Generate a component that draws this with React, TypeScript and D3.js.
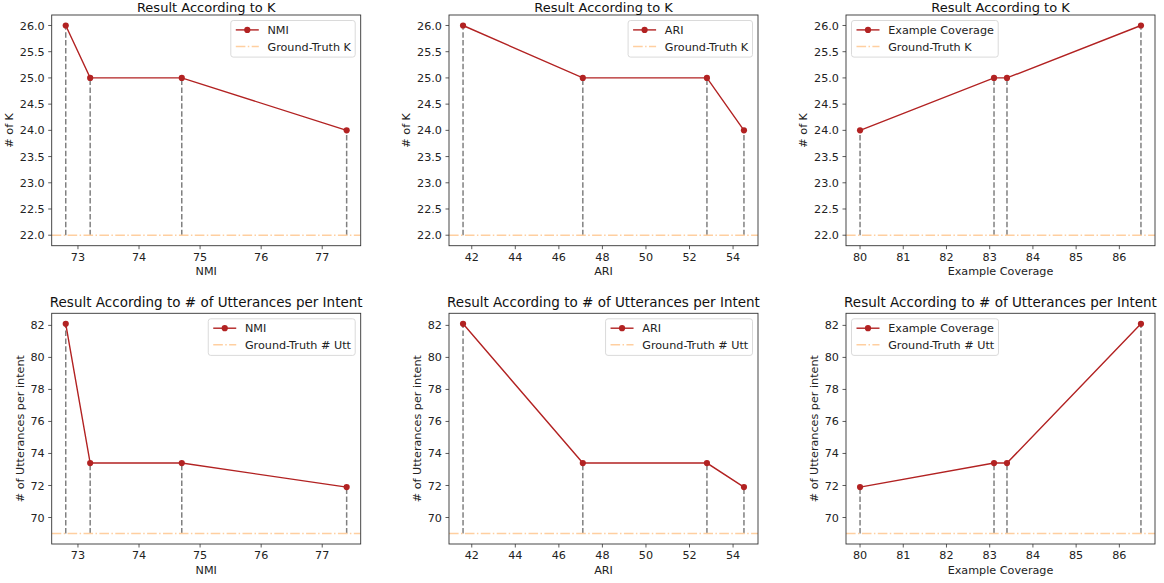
import React, { useEffect, useRef } from "react";
import * as d3 from "d3";

// ---- data ----
const metricNames = ["NMI", "ARI", "Example Coverage"];
const nmiValues = [72.8, 73.2, 74.7, 77.4];
const ariValues = [41.6, 47.1, 52.8, 54.5];
const coverageValues = [80, 83.1, 83.4, 86.5];

const kForNmi = [26, 25, 25, 24];
const kForAri = [26, 25, 25, 24];
const kForCoverage = [24, 25, 25, 26];

const uttForNmi = [82.1, 73.4, 73.4, 71.9];
const uttForAri = [82.1, 73.4, 73.4, 71.9];
const uttForCoverage = [71.9, 73.4, 73.4, 82.1];

const groundTruthK = 22;
const groundTruthUtt = 69;

const nmiTicks = [73, 74, 75, 76, 77];
const ariTicks = [42, 44, 46, 48, 50, 52, 54];
const coverageTicks = [80, 81, 82, 83, 84, 85, 86];
const kTicks = [22.0, 22.5, 23.0, 23.5, 24.0, 24.5, 25.0, 25.5, 26.0];
const uttTicks = [70, 72, 74, 76, 78, 80, 82];

const titles = ["Result According to K", "Result According to # of Utterances per Intent"];
const yLabels = ["# of K", "# of Utterances per intent"];
const gtLabels = ["Ground-Truth K", "Ground-Truth # Utt"];

// ---- layout / style ----
const W = 1164;
const H = 583;
const colLeft = [51.7, 449, 846];
const rowTop = [15, 313.3];
const titleOffset = [3.0, 6.6];
const titleSize = [13, 13.5];
const PW = 309;
const PH = 230.7;
const FONT = "DejaVu Sans, sans-serif";
const FS = 11.2;
const RED = "#b22222";
const GT = "#ffcfa0";

function measure(text: string, size: number) {
  const c = document.createElement("canvas");
  const ctx = c.getContext("2d")!;
  ctx.font = `${size}px "DejaVu Sans"`;
  return ctx.measureText(text).width;
}

function pad(ext: [number, number]): [number, number] {
  const m = (ext[1] - ext[0]) * 0.05;
  return [ext[0] - m, ext[1] + m];
}

export default function App() {
  const ref = useRef<SVGSVGElement>(null);

  useEffect(() => {
    const svg = d3.select(ref.current);
    svg.selectAll("*").remove();

    const xs = [nmiValues, ariValues, coverageValues];
    const xTicksAll = [nmiTicks, ariTicks, coverageTicks];
    const ysRows = [
      [kForNmi, kForAri, kForCoverage],
      [uttForNmi, uttForAri, uttForCoverage],
    ];
    const gts = [groundTruthK, groundTruthUtt];
    const yTicksAll = [kTicks, uttTicks];
    const yFmt = [(v: number) => v.toFixed(1), (v: number) => String(v)];

    for (let r = 0; r < 2; r++) {
      for (let c = 0; c < 3; c++) {
        const x0 = colLeft[c];
        const y0 = rowTop[r];
        const xv = xs[c];
        const yv = ysRows[r][c];
        const gt = gts[r];
        const xScale = d3
          .scaleLinear()
          .domain(pad(d3.extent(xv) as [number, number]))
          .range([x0, x0 + PW]);
        const yExt = d3.extent([...yv, gt]) as [number, number];
        const yScale = d3.scaleLinear().domain(pad(yExt)).range([y0 + PH, y0]);

        const g = svg.append("g");
        const clipId = `clip-${r}-${c}`;
        svg
          .append("clipPath")
          .attr("id", clipId)
          .append("rect")
          .attr("x", x0)
          .attr("y", y0)
          .attr("width", PW)
          .attr("height", PH);

        const plot = g.append("g").attr("clip-path", `url(#${clipId})`);

        // vertical dashed lines
        xv.forEach((x, i) => {
          plot
            .append("line")
            .attr("x1", xScale(x))
            .attr("x2", xScale(x))
            .attr("y1", yScale(gt))
            .attr("y2", yScale(yv[i]))
            .attr("stroke", "#808080")
            .attr("stroke-width", 1.5)
            .attr("stroke-dasharray", "5.5,2.4");
        });

        // ground truth line
        plot
          .append("line")
          .attr("x1", x0)
          .attr("x2", x0 + PW)
          .attr("y1", yScale(gt))
          .attr("y2", yScale(gt))
          .attr("stroke", GT)
          .attr("stroke-width", 1.5)
          .attr("stroke-dasharray", "9.6,2.4,1.5,2.4");

        // data line
        const pts = xv.map((x, i) => [x, yv[i]] as [number, number]);
        const line = d3
          .line<[number, number]>()
          .x((d) => xScale(d[0]))
          .y((d) => yScale(d[1]));
        plot
          .append("path")
          .attr("d", line(pts))
          .attr("fill", "none")
          .attr("stroke", RED)
          .attr("stroke-width", 1.4);
        plot
          .selectAll("circle")
          .data(pts)
          .enter()
          .append("circle")
          .attr("cx", (d) => xScale(d[0]))
          .attr("cy", (d) => yScale(d[1]))
          .attr("r", 3.1)
          .attr("fill", RED);

        // frame
        g.append("rect")
          .attr("x", x0)
          .attr("y", y0)
          .attr("width", PW)
          .attr("height", PH)
          .attr("fill", "none")
          .attr("stroke", "#333")
          .attr("stroke-width", 0.9);

        // x ticks
        const yb = y0 + PH;
        xTicksAll[c].forEach((t) => {
          const px = xScale(t);
          g.append("line")
            .attr("x1", px)
            .attr("x2", px)
            .attr("y1", yb)
            .attr("y2", yb + 3.5)
            .attr("stroke", "#333")
            .attr("stroke-width", 0.8);
          g.append("text")
            .attr("x", px)
            .attr("y", yb + 15)
            .attr("text-anchor", "middle")
            .attr("font-family", FONT)
            .attr("font-size", FS)
            .attr("fill", "#222")
            .text(String(t));
        });
        g.append("text")
          .attr("x", x0 + PW / 2)
          .attr("y", yb + 29.5)
          .attr("text-anchor", "middle")
          .attr("font-family", FONT)
          .attr("font-size", FS)
          .attr("fill", "#222")
          .text(metricNames[c]);

        // y ticks
        let maxW = 0;
        yTicksAll[r].forEach((t) => {
          const py = yScale(t);
          const label = yFmt[r](t);
          maxW = Math.max(maxW, measure(label, FS));
          g.append("line")
            .attr("x1", x0 - 3.5)
            .attr("x2", x0)
            .attr("y1", py)
            .attr("y2", py)
            .attr("stroke", "#333")
            .attr("stroke-width", 0.8);
          g.append("text")
            .attr("x", x0 - 7)
            .attr("y", py)
            .attr("dy", "0.36em")
            .attr("text-anchor", "end")
            .attr("font-family", FONT)
            .attr("font-size", FS)
            .attr("fill", "#222")
            .text(label);
        });
        const ylx = x0 - 7 - maxW - 4 - 2.6;
        g.append("text")
          .attr("transform", `translate(${ylx},${y0 + PH / 2}) rotate(-90)`)
          .attr("text-anchor", "middle")
          .attr("font-family", FONT)
          .attr("font-size", FS)
          .attr("fill", "#222")
          .text(yLabels[r]);

        // title
        g.append("text")
          .attr("x", x0 + PW / 2)
          .attr("y", y0 - titleOffset[r])
          .attr("text-anchor", "middle")
          .attr("font-family", FONT)
          .attr("font-size", titleSize[r])
          .attr("fill", "#111")
          .text(titles[r]);

        // legend
        const textW = Math.max(measure(metricNames[c], FS), measure(gtLabels[r], FS));
        const lw = 36.7 + textW + 4.3;
        const lh = 36.6;
        const lx = c === 2 ? x0 + 5.5 : x0 + PW - 5.5 - lw;
        const ly = y0 + 5.5;
        const lg = g.append("g");
        lg.append("rect")
          .attr("x", lx)
          .attr("y", ly)
          .attr("width", lw)
          .attr("height", lh)
          .attr("rx", 2.5)
          .attr("fill", "rgba(255,255,255,0.85)")
          .attr("stroke", "#d6d6d6")
          .attr("stroke-width", 0.9);
        const r1 = ly + 9.4;
        const r2 = ly + 26;
        lg.append("line")
          .attr("x1", lx + 5)
          .attr("x2", lx + 28)
          .attr("y1", r1)
          .attr("y2", r1)
          .attr("stroke", RED)
          .attr("stroke-width", 1.4);
        lg.append("circle")
          .attr("cx", lx + 16.5)
          .attr("cy", r1)
          .attr("r", 3.1)
          .attr("fill", RED);
        lg.append("line")
          .attr("x1", lx + 5)
          .attr("x2", lx + 28)
          .attr("y1", r2)
          .attr("y2", r2)
          .attr("stroke", GT)
          .attr("stroke-width", 1.5)
          .attr("stroke-dasharray", "9.6,2.4,1.5,2.4");
        lg.append("text")
          .attr("x", lx + 36.7)
          .attr("y", r1)
          .attr("dy", "0.36em")
          .attr("font-family", FONT)
          .attr("font-size", FS)
          .attr("fill", "#222")
          .text(metricNames[c]);
        lg.append("text")
          .attr("x", lx + 36.7)
          .attr("y", r2)
          .attr("dy", "0.36em")
          .attr("font-family", FONT)
          .attr("font-size", FS)
          .attr("fill", "#222")
          .text(gtLabels[r]);
      }
    }
  }, []);

  return (
    <svg
      ref={ref}
      width={W}
      height={H}
      style={{ position: "absolute", left: 0, top: 0, background: "#fff", display: "block" }}
    />
  );
}
